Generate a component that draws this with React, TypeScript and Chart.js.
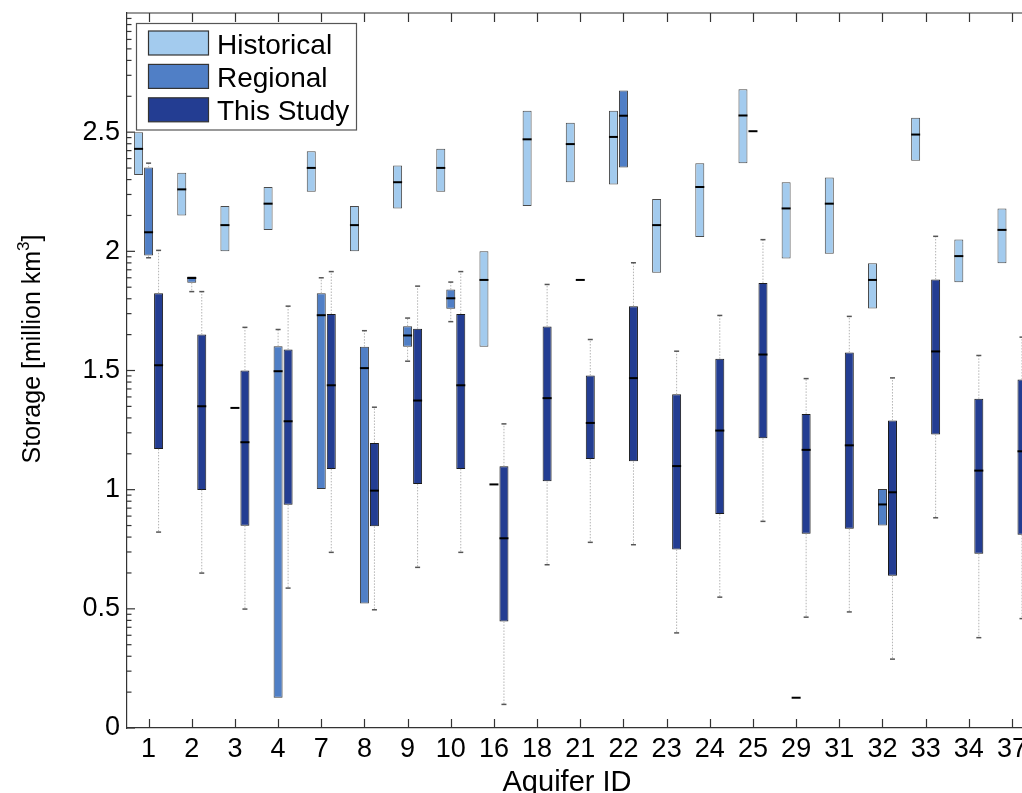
import React, { useEffect, useRef } from 'react';
import { Chart, registerables } from 'chart.js';

Chart.register(...registerables);

// ---------- data ----------
const categories = ['1', '2', '3', '4', '7', '8', '9', '10', '16', '18', '21', '22', '23', '24', '25', '29', '31', '32', '33', '34', '37'];
const yTickValues = [0, 0.5, 1, 1.5, 2, 2.5];
const yTickLabels = ['0', '0.5', '1', '1.5', '2', '2.5'];
const seriesNames = ['Historical', 'Regional', 'This Study'];
const xTitle = 'Aquifer ID';
const yTitleMain = 'Storage [million km';
const yTitleSup = '3';
const yTitleEnd = ']';

const historicalQ1 = [2.32, 2.15, 2.0, 2.09, 2.25, 2.0, 2.18, 2.25, 1.6, 2.19, 2.29, 2.28, 1.91, 2.06, 2.37, 1.97, 1.99, 1.76, 2.38, 1.87, 1.95];
const historicalMedian = [2.43, 2.26, 2.11, 2.2, 2.35, 2.11, 2.29, 2.35, 1.88, 2.47, 2.45, 2.48, 2.11, 2.27, 2.57, 2.18, 2.2, 1.88, 2.49, 1.98, 2.09];
const historicalQ3 = [2.5, 2.33, 2.19, 2.27, 2.42, 2.19, 2.36, 2.43, 2.0, 2.59, 2.54, 2.59, 2.22, 2.37, 2.68, 2.29, 2.31, 1.95, 2.56, 2.05, 2.18];
const historicalLow: (number | null)[] = [];
const historicalHigh: (number | null)[] = [];

const regionalQ1 = [1.983, 1.868, 1.343, 0.127, 1.003, 0.522, 1.6, 1.759, 1.022, null, 1.88, 2.352, null, null, 2.504, 0.127, null, 0.85, null, null, null];
const regionalMedian = [2.08, 1.888, 1.343, 1.497, 1.732, 1.51, 1.647, 1.803, 1.022, null, 1.88, 2.569, null, null, 2.504, 0.127, null, 0.938, null, null, null];
const regionalQ3 = [2.352, 1.894, 1.343, 1.602, 1.824, 1.6, 1.686, 1.84, 1.022, null, 1.88, 2.675, null, null, 2.504, 0.127, null, 1.003, null, null, null];
const regionalLow = [1.973, 1.831, null, null, null, null, 1.539, 1.705, null, null, null, null, null, null, null, null, null, null, null, null, null];
const regionalHigh = [2.37, null, null, 1.672, 1.889, 1.667, 1.72, 1.871, null, null, null, null, null, null, null, null, null, null, null, null, null];

const studyQ1 = [1.171, 0.999, 0.849, 0.937, 1.087, 0.846, 1.024, 1.087, 0.447, 1.035, 1.129, 1.119, 0.749, 0.898, 1.216, 0.815, 0.836, 0.639, 1.231, 0.731, 0.811];
const studyMedian = [1.522, 1.35, 1.199, 1.287, 1.438, 0.996, 1.374, 1.438, 0.796, 1.384, 1.28, 1.468, 1.099, 1.248, 1.567, 1.167, 1.186, 0.989, 1.58, 1.08, 1.161];
const studyQ3 = [1.824, 1.651, 1.5, 1.588, 1.737, 1.196, 1.675, 1.737, 1.098, 1.685, 1.479, 1.77, 1.4, 1.549, 1.867, 1.318, 1.576, 1.29, 1.882, 1.381, 1.462];
const studyLow = [0.822, 0.65, 0.499, 0.587, 0.737, 0.496, 0.674, 0.737, 0.099, 0.685, 0.779, 0.769, 0.399, 0.549, 0.867, 0.465, 0.487, 0.289, 0.882, 0.379, 0.459];
const studyHigh = [2.004, 1.831, 1.681, 1.77, 1.915, 1.346, 1.854, 1.915, 1.276, 1.861, 1.63, 1.952, 1.581, 1.731, 2.049, 1.466, 1.727, 1.469, 2.063, 1.563, 1.64];

// ---------- styles ----------
const FONT = "'Liberation Sans', Arial, Helvetica, sans-serif";
const fillColors = ['#a3cbee', '#507fc6', '#233d92'];
const edgeColors = ['#4a4a4a', '#3a3a3a', '#1a1a1a'];
const frameColor = '#333333';

type BoxSeries = {
  q1: (number | null)[];
  med: (number | null)[];
  q3: (number | null)[];
  low: (number | null)[];
  high: (number | null)[];
};

const boxSeries: BoxSeries[] = [
  { q1: historicalQ1, med: historicalMedian, q3: historicalQ3, low: historicalLow, high: historicalHigh },
  { q1: regionalQ1, med: regionalMedian, q3: regionalQ3, low: regionalLow, high: regionalHigh },
  { q1: studyQ1, med: studyMedian, q3: studyQ3, low: studyLow, high: studyHigh },
];

const boxExtras = {
  id: 'boxExtras',
  afterDatasetsDraw(chart: any) {
    const ctx = chart.ctx as CanvasRenderingContext2D;
    const y = chart.scales.y;
    ctx.save();
    boxSeries.forEach((s, di) => {
      const meta = chart.getDatasetMeta(di);
      meta.data.forEach((el: any, i: number) => {
        const med = s.med[i];
        if (med == null) return;
        const { x, width } = el.getProps(['x', 'width'], true);
        const q1 = s.q1[i] as number;
        const q3 = s.q3[i] as number;
        const lo = s.low[i];
        const hi = s.high[i];
        const drawWhisker = (from: number, to: number) => {
          ctx.save();
          ctx.strokeStyle = '#b4b4b4';
          ctx.lineWidth = 1;
          ctx.setLineDash([1.5, 1.5]);
          ctx.beginPath();
          ctx.moveTo(x, y.getPixelForValue(from));
          ctx.lineTo(x, y.getPixelForValue(to));
          ctx.stroke();
          ctx.restore();
          ctx.strokeStyle = '#555';
          ctx.lineWidth = 1.5;
          ctx.beginPath();
          const py = y.getPixelForValue(to);
          ctx.moveTo(x - 2.5, py);
          ctx.lineTo(x + 2.5, py);
          ctx.stroke();
        };
        if (hi != null) drawWhisker(q3, hi);
        if (lo != null) drawWhisker(q1, lo);
        ctx.strokeStyle = '#000';
        ctx.lineWidth = 2;
        ctx.beginPath();
        const pm = y.getPixelForValue(med);
        ctx.moveTo(x - width / 2, pm);
        ctx.lineTo(x + width / 2, pm);
        ctx.stroke();
      });
    });
    ctx.restore();
  },
  afterDraw(chart: any) {
    const ctx = chart.ctx as CanvasRenderingContext2D;
    const a = chart.chartArea;
    const x = chart.scales.x;
    const y = chart.scales.y;
    ctx.save();
    ctx.strokeStyle = frameColor;
    ctx.lineWidth = 1.2;
    const line = (x1: number, y1: number, x2: number, y2: number) => {
      ctx.beginPath();
      ctx.moveTo(x1, y1);
      ctx.lineTo(x2, y2);
      ctx.stroke();
    };
    // top frame
    line(a.left, a.top, a.right, a.top);
    // x ticks (inward, bottom and top)
    categories.forEach((_, i) => {
      const px = Math.round(x.getPixelForValue(i)) + 0.5;
      line(px, a.bottom, px, a.bottom - 9);
      line(px, a.top, px, a.top + 9);
    });
    // y major & minor ticks (inward)
    const step = yTickValues[1] - yTickValues[0];
    yTickValues.forEach((v) => {
      line(a.left, y.getPixelForValue(v), a.left + 8, y.getPixelForValue(v));
      for (let k = 2; k <= 9; k++) {
        const mv = v + step * Math.log10(k);
        if (mv > y.max) continue;
        const py = y.getPixelForValue(mv);
        line(a.left, py, a.left + 4.5, py);
      }
    });

    // y title with superscript
    ctx.fillStyle = '#000';
    ctx.textBaseline = 'alphabetic';
    ctx.textAlign = 'left';
    const mainFont = `25px ${FONT}`;
    const supFont = `17px ${FONT}`;
    ctx.font = mainFont;
    const wMain = ctx.measureText(yTitleMain).width;
    const wEnd = ctx.measureText(yTitleEnd).width;
    ctx.font = supFont;
    const wSup = ctx.measureText(yTitleSup).width;
    const total = wMain + wSup + wEnd;
    ctx.save();
    ctx.translate(40, 349);
    ctx.rotate(-Math.PI / 2);
    let u = -total / 2;
    ctx.font = mainFont;
    ctx.fillText(yTitleMain, u, 0);
    u += wMain;
    ctx.font = supFont;
    ctx.fillText(yTitleSup, u, -11);
    u += wSup;
    ctx.font = mainFont;
    ctx.fillText(yTitleEnd, u, 0);
    ctx.restore();

    // x title
    ctx.font = `29px ${FONT}`;
    ctx.textAlign = 'center';
    ctx.fillText(xTitle, 567, 791);

    // legend
    const lx = 136.5, ly = 23.5, lw = 220, lh = 106.5;
    ctx.fillStyle = '#fff';
    ctx.fillRect(lx, ly, lw, lh);
    ctx.strokeStyle = '#555';
    ctx.lineWidth = 1.2;
    ctx.strokeRect(lx, ly, lw, lh);
    ctx.font = `28px ${FONT}`;
    ctx.textAlign = 'left';
    seriesNames.forEach((name, i) => {
      const top = 31 + i * 33.4;
      ctx.fillStyle = fillColors[i];
      ctx.fillRect(148.5, top, 60, 24);
      ctx.strokeStyle = '#333';
      ctx.lineWidth = 1.2;
      ctx.strokeRect(148.5, top, 60, 24);
      ctx.fillStyle = '#000';
      ctx.fillText(name, 217, top + 22.5);
    });
    ctx.restore();
  },
};

export default function App() {
  const canvasRef = useRef<HTMLCanvasElement | null>(null);

  useEffect(() => {
    if (!canvasRef.current) return;
    const datasets = boxSeries.map((s, di) => ({
      label: seriesNames[di],
      data: categories.map((_, i) => (s.q1[i] == null ? null : [s.q1[i] as number, s.q3[i] as number])),
      backgroundColor: fillColors[di],
      borderColor: edgeColors[di],
      borderWidth: 1,
      borderSkipped: false,
      categoryPercentage: 0.695,
      barPercentage: 0.9,
    }));
    const chart = new Chart(canvasRef.current, {
      type: 'bar',
      data: { labels: categories, datasets: datasets as any },
      options: {
        animation: false,
        responsive: true,
        maintainAspectRatio: false,
        layout: { padding: { left: 67, right: 16.43, top: 13, bottom: 25 } },
        plugins: { legend: { display: false }, tooltip: { enabled: false } },
        scales: {
          x: {
            type: 'category',
            offset: true,
            grid: { display: false, drawTicks: false },
            border: { display: true, color: frameColor, width: 1.2 },
            ticks: { color: '#000', font: { family: FONT, size: 27 }, padding: 5, maxRotation: 0, autoSkip: false },
            afterFit: (s: any) => {
              s.height = 40;
              s.paddingLeft = 0;
              s.paddingRight = 0;
            },
          },
          y: {
            type: 'linear',
            min: 0,
            max: 3,
            grid: { display: false, drawTicks: false },
            border: { display: true, color: frameColor, width: 1.2 },
            ticks: {
              color: '#000',
              font: { family: FONT, size: 27 },
              padding: 7,
              callback: (v: any) => {
                const idx = yTickValues.indexOf(Number(v));
                return idx >= 0 ? yTickLabels[idx] : '';
              },
            },
            afterBuildTicks: (s: any) => {
              s.ticks = yTickValues.map((v) => ({ value: v }));
            },
            afterFit: (s: any) => {
              s.width = 60;
              s.paddingTop = 0;
              s.paddingBottom = 0;
            },
          },
        },
      },
      plugins: [boxExtras],
    });
    return () => chart.destroy();
  }, []);

  return (
    <div style={{ position: 'fixed', left: 0, top: 0, width: 1022, height: 793, overflow: 'hidden', background: '#fff' }}>
      <div style={{ position: 'relative', width: 1050, height: 793 }}>
        <canvas ref={canvasRef} />
      </div>
    </div>
  );
}
